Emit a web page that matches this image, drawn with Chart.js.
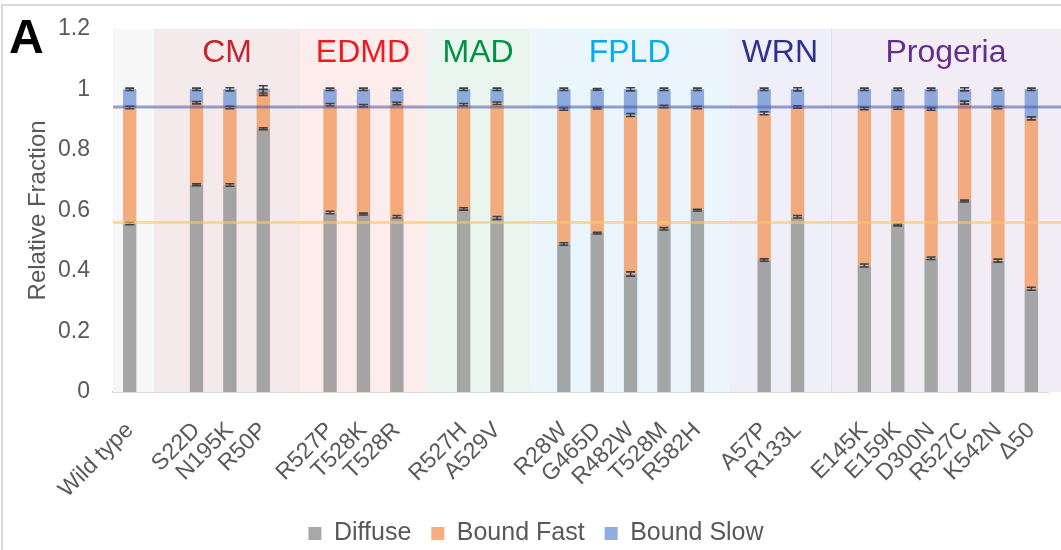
<!DOCTYPE html>
<html>
<head>
<meta charset="utf-8">
<script src="https://cdn.jsdelivr.net/npm/chart.js@4"></script>
<style>
  html, body { margin: 0; padding: 0; background: #fff; }
  #wrap { width: 1061px; height: 550px; }
</style>
</head>
<body>
<div id="wrap"><canvas id="chart" width="1061" height="550"></canvas></div>
<script>
const FONT = '"Liberation Sans", Arial, sans-serif';

// categories (empty strings are the spacer slots between groups)
const mutants = ['Wild type', '', 'S22D', 'N195K', 'R50P', '', 'R527P', 'T528K', 'T528R', '',
  'R527H', 'A529V', '', 'R28W', 'G465D', 'R482W', 'T528M', 'R582H', '', 'A57P', 'R133L', '',
  'E145K', 'E159K', 'D300N', 'R527C', 'K542N', 'Δ50'];

// fractions
const diffuse   = [0.557, null, 0.685, 0.684, 0.870, null, 0.593, 0.588, 0.579, null,
  0.605, 0.575, null, 0.489, 0.525, 0.390, 0.539, 0.601, null, 0.436, 0.579, null,
  0.418, 0.552, 0.442, 0.631, 0.434, 0.341];
const boundFast = [0.383, null, 0.271, 0.256, 0.120, null, 0.356, 0.358, 0.374, null,
  0.344, 0.379, null, 0.446, 0.413, 0.525, 0.404, 0.339, null, 0.485, 0.363, null,
  0.519, 0.386, 0.493, 0.325, 0.506, 0.563];
const boundSlow = [0.060, null, 0.044, 0.060, 0.010, null, 0.051, 0.054, 0.047, null,
  0.051, 0.046, null, 0.065, 0.062, 0.085, 0.057, 0.060, null, 0.079, 0.058, null,
  0.063, 0.062, 0.065, 0.044, 0.060, 0.096];

// error bar half-widths at the top of each segment
const errDiffuse = [0.004, null, 0.003, 0.004, 0.003, null, 0.004, 0.003, 0.004, null,
  0.004, 0.005, null, 0.004, 0.003, 0.007, 0.004, 0.003, null, 0.004, 0.004, null,
  0.005, 0.003, 0.004, 0.003, 0.005, 0.005];
const errFast = [0.004, null, 0.004, 0.004, 0.010, null, 0.004, 0.004, 0.004, null,
  0.004, 0.004, null, 0.004, 0.003, 0.005, 0.004, 0.004, null, 0.005, 0.004, null,
  0.004, 0.004, 0.004, 0.005, 0.004, 0.005];
const errSlow = [0.004, null, 0.004, 0.005, 0.012, null, 0.004, 0.004, 0.004, null,
  0.004, 0.004, null, 0.004, 0.003, 0.005, 0.004, 0.004, null, 0.004, 0.005, null,
  0.004, 0.004, 0.004, 0.005, 0.004, 0.004];

// disease groups: name, colour, shading, span in category units
const groupNames  = ['', 'CM', 'EDMD', 'MAD', 'FPLD', 'WRN', 'Progeria'];
const groupColors = ['#000', '#c1272d', '#ed1c24', '#009245', '#00aeef', '#2e3192', '#662d91'];
const groupShades = ['#f7f7f7', '#f4eaeb', '#fdecec', '#ebf5ef', '#eaf6fc', '#eeeff8', '#f2edf5'];
const groupEdges  = [-0.5, 0.73, 5.1, 8.87, 12.0, 17.94, 21.0, 28.4];

// wild type reference levels
const refSlow = 0.942;
const refDiffuse = 0.560;

const backdrop = {
  id: 'backdrop',
  afterLayout(chart) {
    // nudge the legend to where it sits in the figure
    const lg = chart.legend;
    lg.left += 12; lg.right += 12;
    lg.top += 6; lg.bottom += 6;
  },
  beforeDatasetsDraw(chart) {
    const {ctx, chartArea: a, scales: {x, y}} = chart;
    ctx.save();
    for (let i = 0; i < groupShades.length; i++) {
      const l = x.getPixelForValue(groupEdges[i]);
      const r = Math.min(x.getPixelForValue(groupEdges[i + 1]), chart.width);
      ctx.fillStyle = groupShades[i];
      ctx.fillRect(l, a.top, r - l, a.bottom - a.top);
    }
    ctx.strokeStyle = '#e2dde8';
    ctx.lineWidth = 1;
    const wx = Math.round(x.getPixelForValue(groupEdges[6])) + 0.5;
    ctx.beginPath(); ctx.moveTo(wx, a.top); ctx.lineTo(wx, a.bottom); ctx.stroke();
    ctx.textAlign = 'center';
    ctx.textBaseline = 'middle';
    ctx.font = '32px ' + FONT;
    for (let i = 1; i < groupNames.length; i++) {
      const cx = (x.getPixelForValue(groupEdges[i]) + Math.min(x.getPixelForValue(groupEdges[i + 1]), chart.width)) / 2;
      ctx.fillStyle = groupColors[i];
      ctx.fillText(groupNames[i], cx, y.getPixelForValue(1.12));
    }
    ctx.restore();
  },
  afterDatasetsDraw(chart) {
    const {ctx, chartArea: a, scales: {x, y}} = chart;
    ctx.save();
    // error bars
    ctx.strokeStyle = '#404040';
    ctx.lineWidth = 1.6;
    const errs = [errDiffuse, errFast, errSlow];
    const vals = [diffuse, boundFast, boundSlow];
    mutants.forEach((m, j) => {
      if (diffuse[j] == null) return;
      let top = 0;
      const px = x.getPixelForValue(j);
      for (let k = 0; k < 3; k++) {
        top += vals[k][j];
        const y1 = y.getPixelForValue(top - errs[k][j]);
        const y2 = y.getPixelForValue(top + errs[k][j]);
        ctx.beginPath();
        ctx.moveTo(px, y1); ctx.lineTo(px, y2);
        ctx.moveTo(px - 4.5, y1); ctx.lineTo(px + 4.5, y1);
        ctx.moveTo(px - 4.5, y2); ctx.lineTo(px + 4.5, y2);
        ctx.stroke();
      }
    });
    // reference lines
    ctx.lineWidth = 3;
    ctx.strokeStyle = 'rgba(72, 84, 165, 0.55)';
    let yy = y.getPixelForValue(refSlow);
    ctx.beginPath(); ctx.moveTo(a.left, yy); ctx.lineTo(chart.width, yy); ctx.stroke();
    ctx.strokeStyle = 'rgba(250, 196, 110, 0.6)';
    yy = y.getPixelForValue(refDiffuse);
    ctx.beginPath(); ctx.moveTo(a.left, yy); ctx.lineTo(chart.width, yy); ctx.stroke();
    ctx.restore();
  },
  afterDraw(chart) {
    const {ctx} = chart;
    ctx.save();
    ctx.strokeStyle = '#d9d9d9';
    ctx.lineWidth = 2;
    ctx.beginPath();
    ctx.moveTo(2, chart.height); ctx.lineTo(2, 5); ctx.lineTo(chart.width, 5);
    ctx.stroke();
    ctx.fillStyle = '#000';
    ctx.font = 'bold 48px ' + FONT;
    ctx.textBaseline = 'alphabetic';
    ctx.fillText('A', 9, 53);
    ctx.restore();
  }
};

new Chart(document.getElementById('chart'), {
  type: 'bar',
  data: {
    labels: mutants,
    datasets: [
      { label: 'Diffuse', data: diffuse, backgroundColor: 'rgba(139, 139, 139, 0.75)' },
      { label: 'Bound Fast', data: boundFast, backgroundColor: 'rgba(242, 147, 86, 0.75)' },
      { label: 'Bound Slow', data: boundSlow, backgroundColor: 'rgba(108, 144, 211, 0.75)' }
    ]
  },
  options: {
    responsive: false,
    animation: false,
    layout: { padding: { top: 19, right: 13, left: 0, bottom: 0 } },
    datasets: { bar: { barPercentage: 0.4, categoryPercentage: 1 } },
    plugins: {
      tooltip: { enabled: false },
      legend: {
        position: 'bottom',
        labels: {
          boxWidth: 13, boxHeight: 13, padding: 20,
          color: '#595959',
          font: { family: FONT, size: 25 }
        }
      }
    },
    scales: {
      x: {
        stacked: true,
        grid: { display: false },
        border: { color: '#d9d9d9', width: 2 },
        ticks: {
          autoSkip: false, maxRotation: 45, minRotation: 45, padding: 17,
          color: '#595959', font: { family: FONT, size: 23 }
        },
        afterFit(s) { s.height = 103; s.paddingRight = 0; }
      },
      y: {
        stacked: true,
        min: 0, max: 1.2,
        grid: { display: false },
        border: { display: false },
        ticks: {
          stepSize: 0.2, padding: 15,
          color: '#595959', font: { family: FONT, size: 23 },
          callback: v => String(+v.toFixed(1))
        },
        title: {
          display: true, text: 'Relative Fraction',
          color: '#595959', font: { family: FONT, size: 24 },
          padding: { top: 24, bottom: 0 }
        },
        afterFit(s) { s.width = 113; }
      }
    }
  },
  plugins: [backdrop]
});
</script>
</body>
</html>
